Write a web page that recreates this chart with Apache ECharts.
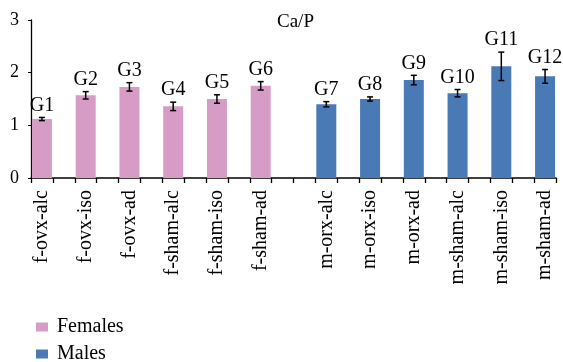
<!DOCTYPE html>
<html>
<head>
<meta charset="utf-8">
<script src="https://cdn.jsdelivr.net/npm/echarts@6/dist/echarts.min.js"></script>
<style>html,body{margin:0;padding:0;background:#fff}#c{width:563px;height:362px}</style>
</head>
<body>
<div id="c"></div>
<script>
const categories = ['f-ovx-alc','f-ovx-iso','f-ovx-ad','f-sham-alc','f-sham-iso','f-sham-ad',
                    'm-orx-alc','m-orx-iso','m-orx-ad','m-sham-alc','m-sham-iso','m-sham-ad'];
const groupLabels = ['G1','G2','G3','G4','G5','G6','G7','G8','G9','G10','G11','G12'];
const means  = [1.12,1.57,1.73,1.36,1.50,1.75,1.40,1.50,1.86,1.61,2.12,1.93];
const errors = [0.03,0.07,0.08,0.08,0.08,0.08,0.05,0.04,0.09,0.07,0.27,0.13];
const sexes  = ['Females','Females','Females','Females','Females','Females',
                'Males','Males','Males','Males','Males','Males'];
const legendNames = ['Females','Males'];
const yTicks = [0,1,2,3];
const title = 'Ca/P';

const FONT = '"Liberation Serif", "DejaVu Serif", serif';
const colors = {Females:'#D79CC6', Males:'#4A7AB5'};

// build axis slots: each bar followed by a spacer, extra spacer between the groups
const slots = [];
const slotOf = [];
categories.forEach((c,i)=>{
  if(i>0) slots.push('');
  if(i>0 && sexes[i]!==sexes[i-1]) slots.push('');
  slotOf.push(slots.length);
  slots.push(c);
});

function seriesData(sex){
  const arr = slots.map(()=> '-');
  categories.forEach((c,i)=>{ if(sexes[i]===sex) arr[slotOf[i]] = means[i]; });
  return arr;
}
const errData = categories.map((c,i)=>[slotOf[i], means[i], errors[i], groupLabels[i]]);

const legendText = {fontFamily:FONT,fontSize:20,color:'#000',fontWeight:'normal',padding:[0,0,0,4]};
const legends = legendNames.map((n,k)=>({
  data:[{name:n, textStyle:legendText}], orient:'vertical', left:31, top:312 + k*27,
  icon:'rect', itemWidth:12, itemHeight:9, itemGap:7, itemStyle:{borderWidth:0},
  textStyle:legendText
}));

const chart = echarts.init(document.getElementById('c'));
chart.setOption({
  animation:false,
  textStyle:{fontFamily:FONT},
  title:{text:title, left:272, top:8, textStyle:{fontFamily:FONT,fontSize:19,fontWeight:'normal',color:'#000'}},
  grid:{left:31, right:7, top:20, bottom:184, containLabel:false},
  legend:legends,
  xAxis:{
    type:'category', data:slots, boundaryGap:true,
    axisLine:{lineStyle:{color:'#000',width:1.5}},
    axisTick:{show:true, interval:0, length:5, lineStyle:{color:'#000',width:1.3}},
    axisLabel:{interval:0, rotate:90, margin:12, fontFamily:FONT, fontSize:20, color:'#000'}
  },
  yAxis:{
    type:'value', min:yTicks[0], max:yTicks[yTicks.length-1], interval:1,
    splitLine:{show:false},
    axisLine:{show:true, lineStyle:{color:'#000',width:1.3}},
    axisTick:{show:true, length:3, lineStyle:{color:'#000'}},
    axisLabel:{margin:12, fontFamily:FONT, fontSize:18, color:'#000'}
  },
  series:[
    {name:'Females', type:'bar', data:seriesData('Females'), barWidth:20, barGap:'-100%', itemStyle:{color:colors.Females}},
    {name:'Males', type:'bar', data:seriesData('Males'), barWidth:20, barGap:'-100%', itemStyle:{color:colors.Males}},
    {name:'err', type:'custom', data:errData, encode:{x:0,y:1}, z:10,
     renderItem:function(params, api){
       const x = api.value(0), m = api.value(1), e = api.value(2);
       const top = api.coord([x, m+e]);
       const bot = api.coord([x, m-e]);
       const hw = 3;
       const ls = {stroke:'#000', lineWidth:1.5};
       return {type:'group', children:[
         {type:'line', shape:{x1:top[0],y1:top[1],x2:bot[0],y2:bot[1]}, style:ls},
         {type:'line', shape:{x1:top[0]-hw,y1:top[1],x2:top[0]+hw,y2:top[1]}, style:ls},
         {type:'line', shape:{x1:bot[0]-hw,y1:bot[1],x2:bot[0]+hw,y2:bot[1]}, style:ls},
         {type:'text', style:{text:api.value(3), x:top[0], y:top[1]-2, align:'center', verticalAlign:'bottom',
           fontFamily:FONT, fontSize:20, fill:'#000'}}
       ]};
     }}
  ]
});
</script>
</body>
</html>
